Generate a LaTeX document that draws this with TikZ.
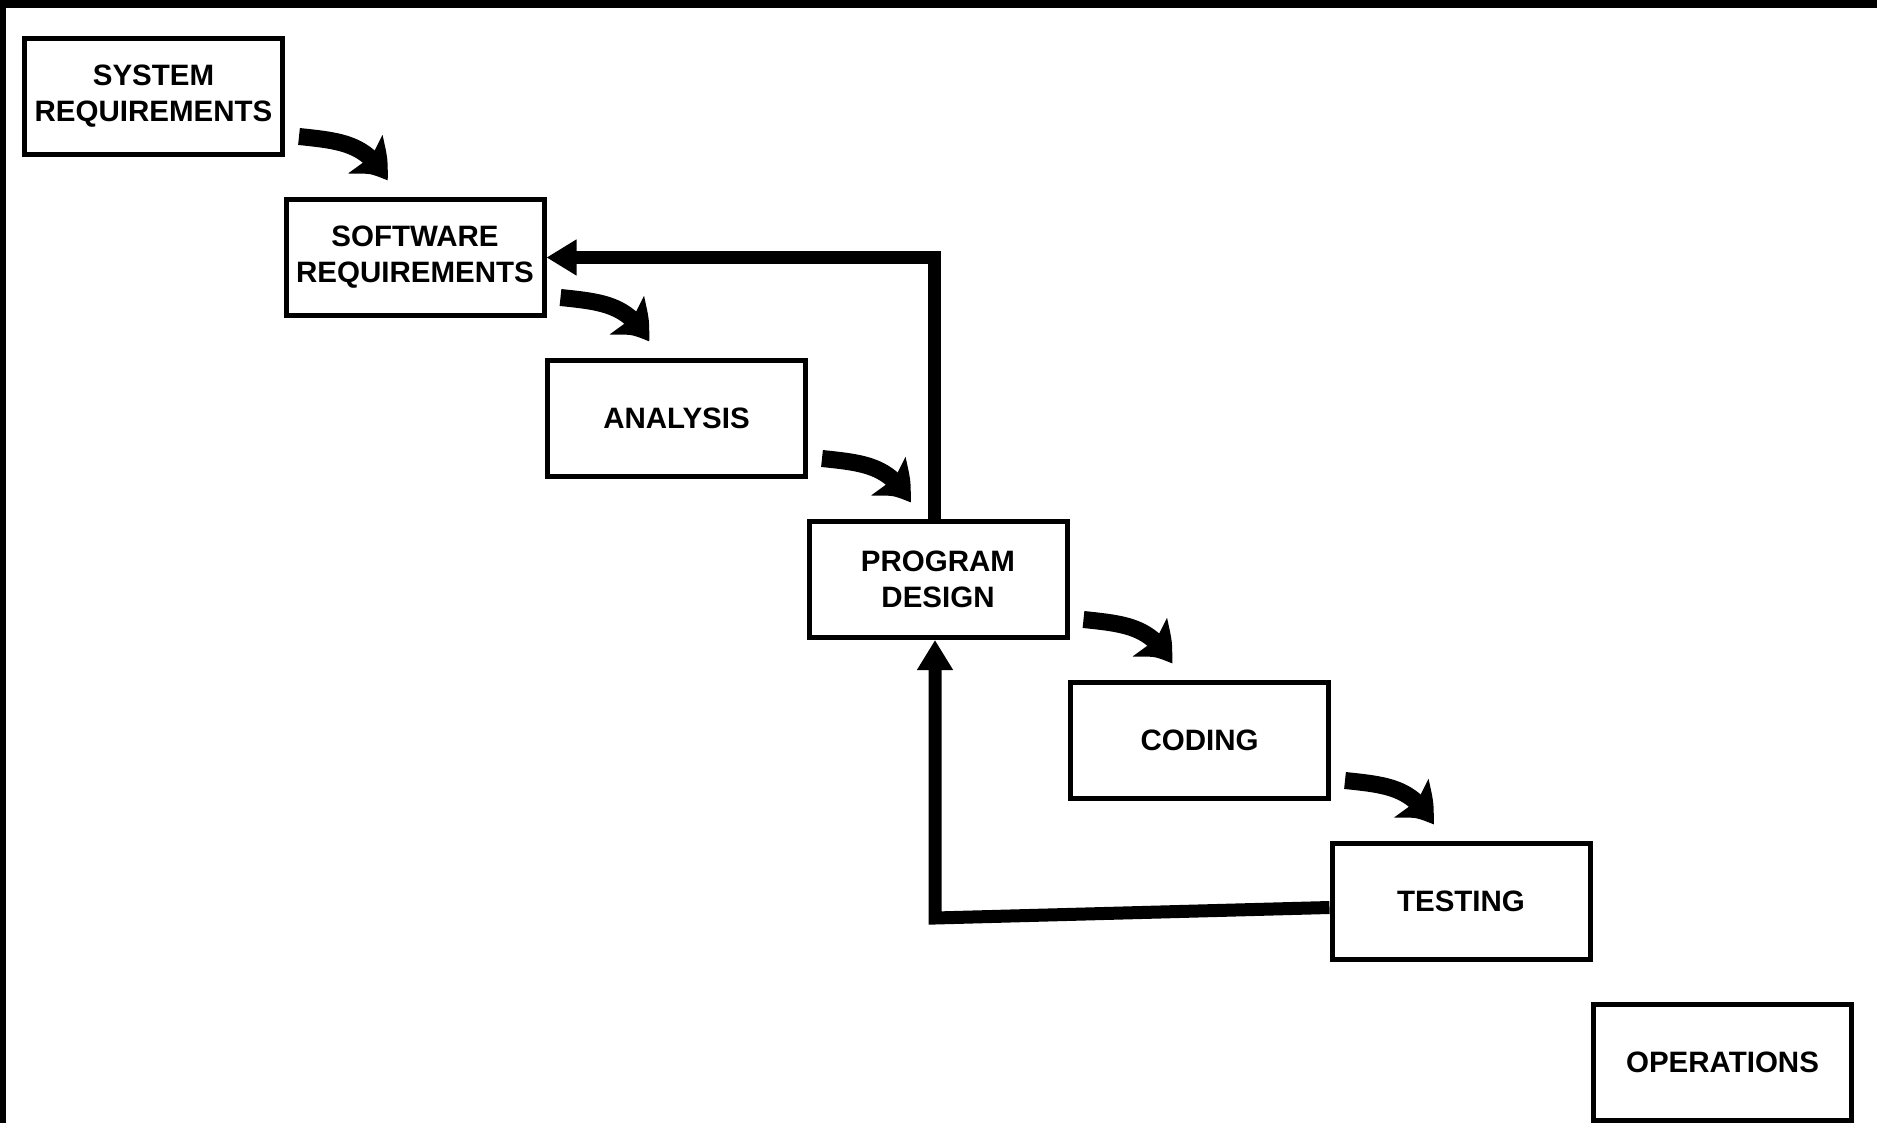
\documentclass[tikz,border=0pt]{standalone}
\usepackage{fontspec}
\setmainfont{Liberation Sans}
\usetikzlibrary{arrows.meta,bending}
\begin{document}
\begin{tikzpicture}[x=1pt,y=1pt,
  stage/.style={draw, line width=5pt, minimum width=258pt, minimum height=116pt,
    inner sep=0pt, align=center, font=\fontsize{29.5}{36}\selectfont\bfseries},
  flow/.style={line width=17pt, -{Stealth[length=38pt,width=48pt,inset=7pt,bend]}},
  back/.style={line width=13pt, line join=miter, -{Triangle[length=30pt,width=34pt]}}]
\useasboundingbox (0,-1123) rectangle (1877,0);
% scanned page edges
\fill[black] (0,0) rectangle (1877,-8);
\fill[black] (0,0) rectangle (6,-1123);

% the stages, stepping down to the right
\node[stage] (sys) at (153.5,-96.5)   {SYSTEM\\REQUIREMENTS};
\node[stage] (sw)  at (415,-257.5)    {SOFTWARE\\REQUIREMENTS};
\node[stage] (an)  at (676.5,-418.5)  {ANALYSIS};
\node[stage] (pd)  at (938,-579.5)    {PROGRAM\\DESIGN};
\node[stage] (cod) at (1199.5,-740.5) {CODING};
\node[stage] (tst) at (1461,-901.5)   {TESTING};
\node[stage] (ops) at (1722.5,-1062.5){OPERATIONS};

% curved hand-offs from each stage to the next
\foreach \a/\b in {sys/sw, sw/an, an/pd, pd/cod, cod/tst}
  \draw[flow] ([shift={(14,-40)}]\a.east) to[out=-6,in=118,looseness=1.1]
              ([shift={(104,16)}]\b.north west);

% feedback paths
\draw[back] ([xshift=-4]pd.north) |- (sw.east);
\coordinate (corner) at (935,-918);
\draw[back] ([yshift=-6]tst.west) -- (corner) -- (corner |- pd.south);
\end{tikzpicture}
\end{document}
